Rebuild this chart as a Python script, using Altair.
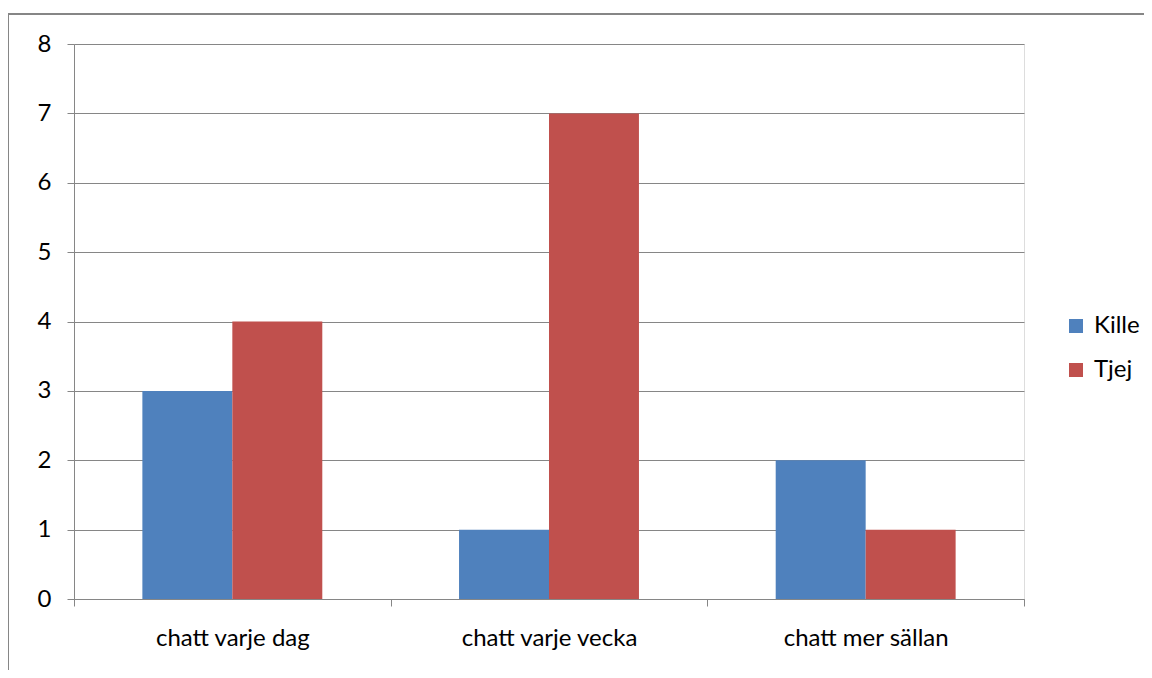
import altair as alt
import pandas as pd

categories = ["chatt varje dag", "chatt varje vecka", "chatt mer sällan"]
series = ["Kille", "Tjej"]
kille = [3, 1, 2]
tjej = [4, 7, 1]
colors = ["#4F81BD", "#C0504D"]
y_ticks = [0, 1, 2, 3, 4, 5, 6, 7, 8]

rows = []
for i, c in enumerate(categories):
    rows.append({"category": c, "series": "Kille", "value": kille[i]})
    rows.append({"category": c, "series": "Tjej", "value": tjej[i]})
df = pd.DataFrame(rows)

FONT = "Lato"
GRAY = "#868686"
FS = 24

bars = alt.Chart(df).mark_bar().encode(
    x=alt.X("category:N", sort=categories,
            scale=alt.Scale(paddingInner=0, paddingOuter=0),
            axis=alt.Axis(title=None, labelAngle=0, tickBand="extent",
                          domainColor=GRAY, tickColor=GRAY, tickSize=7,
                          labelPadding=20, labelFontSize=FS, labelFont=FONT,
                          labelColor="black", grid=False)),
    xOffset=alt.XOffset("series:N", sort=series,
                        scale=alt.Scale(paddingOuter=0.76, paddingInner=0)),
    y=alt.Y("value:Q", scale=alt.Scale(domain=[0, 8], nice=False),
            axis=alt.Axis(title=None, values=y_ticks, labelOverlap=False,
                          grid=True, gridColor=GRAY, domainColor=GRAY,
                          tickColor=GRAY, tickSize=7, labelPadding=16,
                          labelFontSize=FS, labelFont=FONT, labelColor="black")),
    color=alt.Color("series:N", sort=series,
                    scale=alt.Scale(domain=series, range=colors),
                    legend=alt.Legend(title=None, orient="none", legendX=990,
                                      legendY=270, symbolType="square",
                                      symbolSize=196, symbolStrokeWidth=0,
                                      labelFontSize=FS, labelFont=FONT,
                                      labelColor="black", rowPadding=20,
                                      labelOffset=6)),
)

frame_df = pd.DataFrame({"a": [0]})
frame_left = alt.Chart(frame_df).mark_rect(color=GRAY).encode(
    x=alt.value(-67), x2=alt.value(-65), y=alt.value(-31), y2=alt.value(700))
frame_top = alt.Chart(frame_df).mark_rect(color=GRAY).encode(
    x=alt.value(-67), x2=alt.value(1200), y=alt.value(-31), y2=alt.value(-29))

chart = alt.layer(frame_left, frame_top, bars).properties(
    width=950, height=555,
    padding={"left": 66, "top": 36, "right": 120, "bottom": 71},
    autosize=alt.AutoSizeParams(type="none"),
).configure_view(stroke=None).configure(background="white")

chart.save("out.html", embed_options={"renderer": "svg", "actions": False})
